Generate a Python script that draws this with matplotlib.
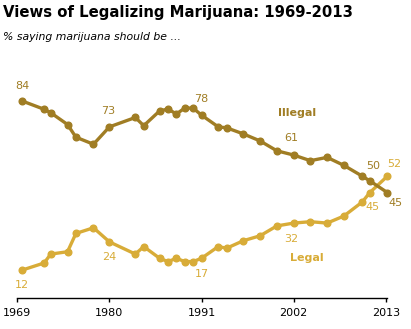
import matplotlib
matplotlib.use("Agg")
import matplotlib.pyplot as plt

# survey dates (fractional years)
years = [1969.6, 1972.2, 1973, 1975, 1976, 1978.1, 1980, 1983.1, 1984.1, 1986, 1987,
         1988, 1989, 1990, 1991, 1993, 1994, 1996, 1998, 2000, 2002, 2004, 2006,
         2008, 2010.2, 2011.1, 2013.2]
illegal = [84, 80.5, 79, 74, 68.6, 65.6, 73, 77, 73.5, 79.8, 80.6,
           78.5, 81, 81, 78, 73, 72.6, 70, 67, 62.8, 61, 58.6, 60,
           56.6, 52, 50, 45]
legal = [12, 15, 18.8, 19.8, 27.6, 30, 24, 18.8, 22, 17, 15.6,
         17, 15.6, 15.6, 17, 22, 21.3, 24.5, 26.6, 30.8, 32, 32.6, 32,
         35, 41, 45, 52]
xticks = [1969, 1980, 1991, 2002, 2013]

dark = "#A07D24"
light = "#D8AC38"

W, H = 411, 329
fig = plt.figure(figsize=(W / 100, H / 100), dpi=100)

px_year = 8.373
x0, x1 = 17.3, 387
y0 = 298.2
px_val = 2.347
ytop = 90
ax = fig.add_axes([x0 / W, (H - y0) / H, (x1 - x0) / W, ytop * px_val / H])
ax.set_xlim(1969, 1969 + (x1 - x0) / px_year)
ax.set_ylim(0, ytop)

ax.plot(years, illegal, color=dark, lw=2.4, marker="o", ms=4.8, clip_on=False, zorder=3)
ax.plot(years, legal, color=light, lw=2.4, marker="o", ms=4.8, clip_on=False, zorder=2)

for s in ["top", "right", "left"]:
    ax.spines[s].set_visible(False)
ax.spines["bottom"].set_linewidth(1.0)
ax.spines["bottom"].set_color("black")
ax.set_yticks([])
ax.set_xticks(xticks)
ax.set_xticklabels([str(t) for t in xticks])
ax.tick_params(axis="x", length=3, width=1, labelsize=8, pad=4, colors="black")

def lab(i, vals, txt, col, dx=0, dy=0, **kw):
    ax.annotate(txt, (years[i], vals[i]), xytext=(dx, dy), textcoords="offset pixels",
                ha="center", va="center", color=col, fontsize=8, **kw)

lab(0, illegal, "84", dark, 0, 15)
lab(6, illegal, "73", dark, -1, 16)
lab(14, illegal, "78", dark, 0, 16)
lab(20, illegal, "61", dark, -2, 17)
lab(25, illegal, "50", dark, 3, 15)
lab(26, illegal, "45", dark, 8, -10)
lab(0, legal, "12", light, 0, -15)
lab(6, legal, "24", light, 0, -15)
lab(14, legal, "17", light, 0, -16)
lab(20, legal, "32", light, -2, -16)
lab(25, legal, "45", light, 3, -14)
lab(26, legal, "52", light, 7, 12)

ax.text(2002.4, 78.7, "Illegal", color=dark, fontsize=8, fontweight="bold", ha="center", va="center")
ax.text(2003.6, 17, "Legal", color=light, fontsize=8, fontweight="bold", ha="center", va="center")

fig.text(3 / W, 1 - 13 / H, "Views of Legalizing Marijuana: 1969-2013", fontsize=10.7,
         fontweight="bold", ha="left", va="center", color="black")
fig.text(3 / W, 1 - 37 / H, "% saying marijuana should be ...", fontsize=7.8,
         style="italic", ha="left", va="center", color="black")

fig.savefig("out.png", dpi=100)
